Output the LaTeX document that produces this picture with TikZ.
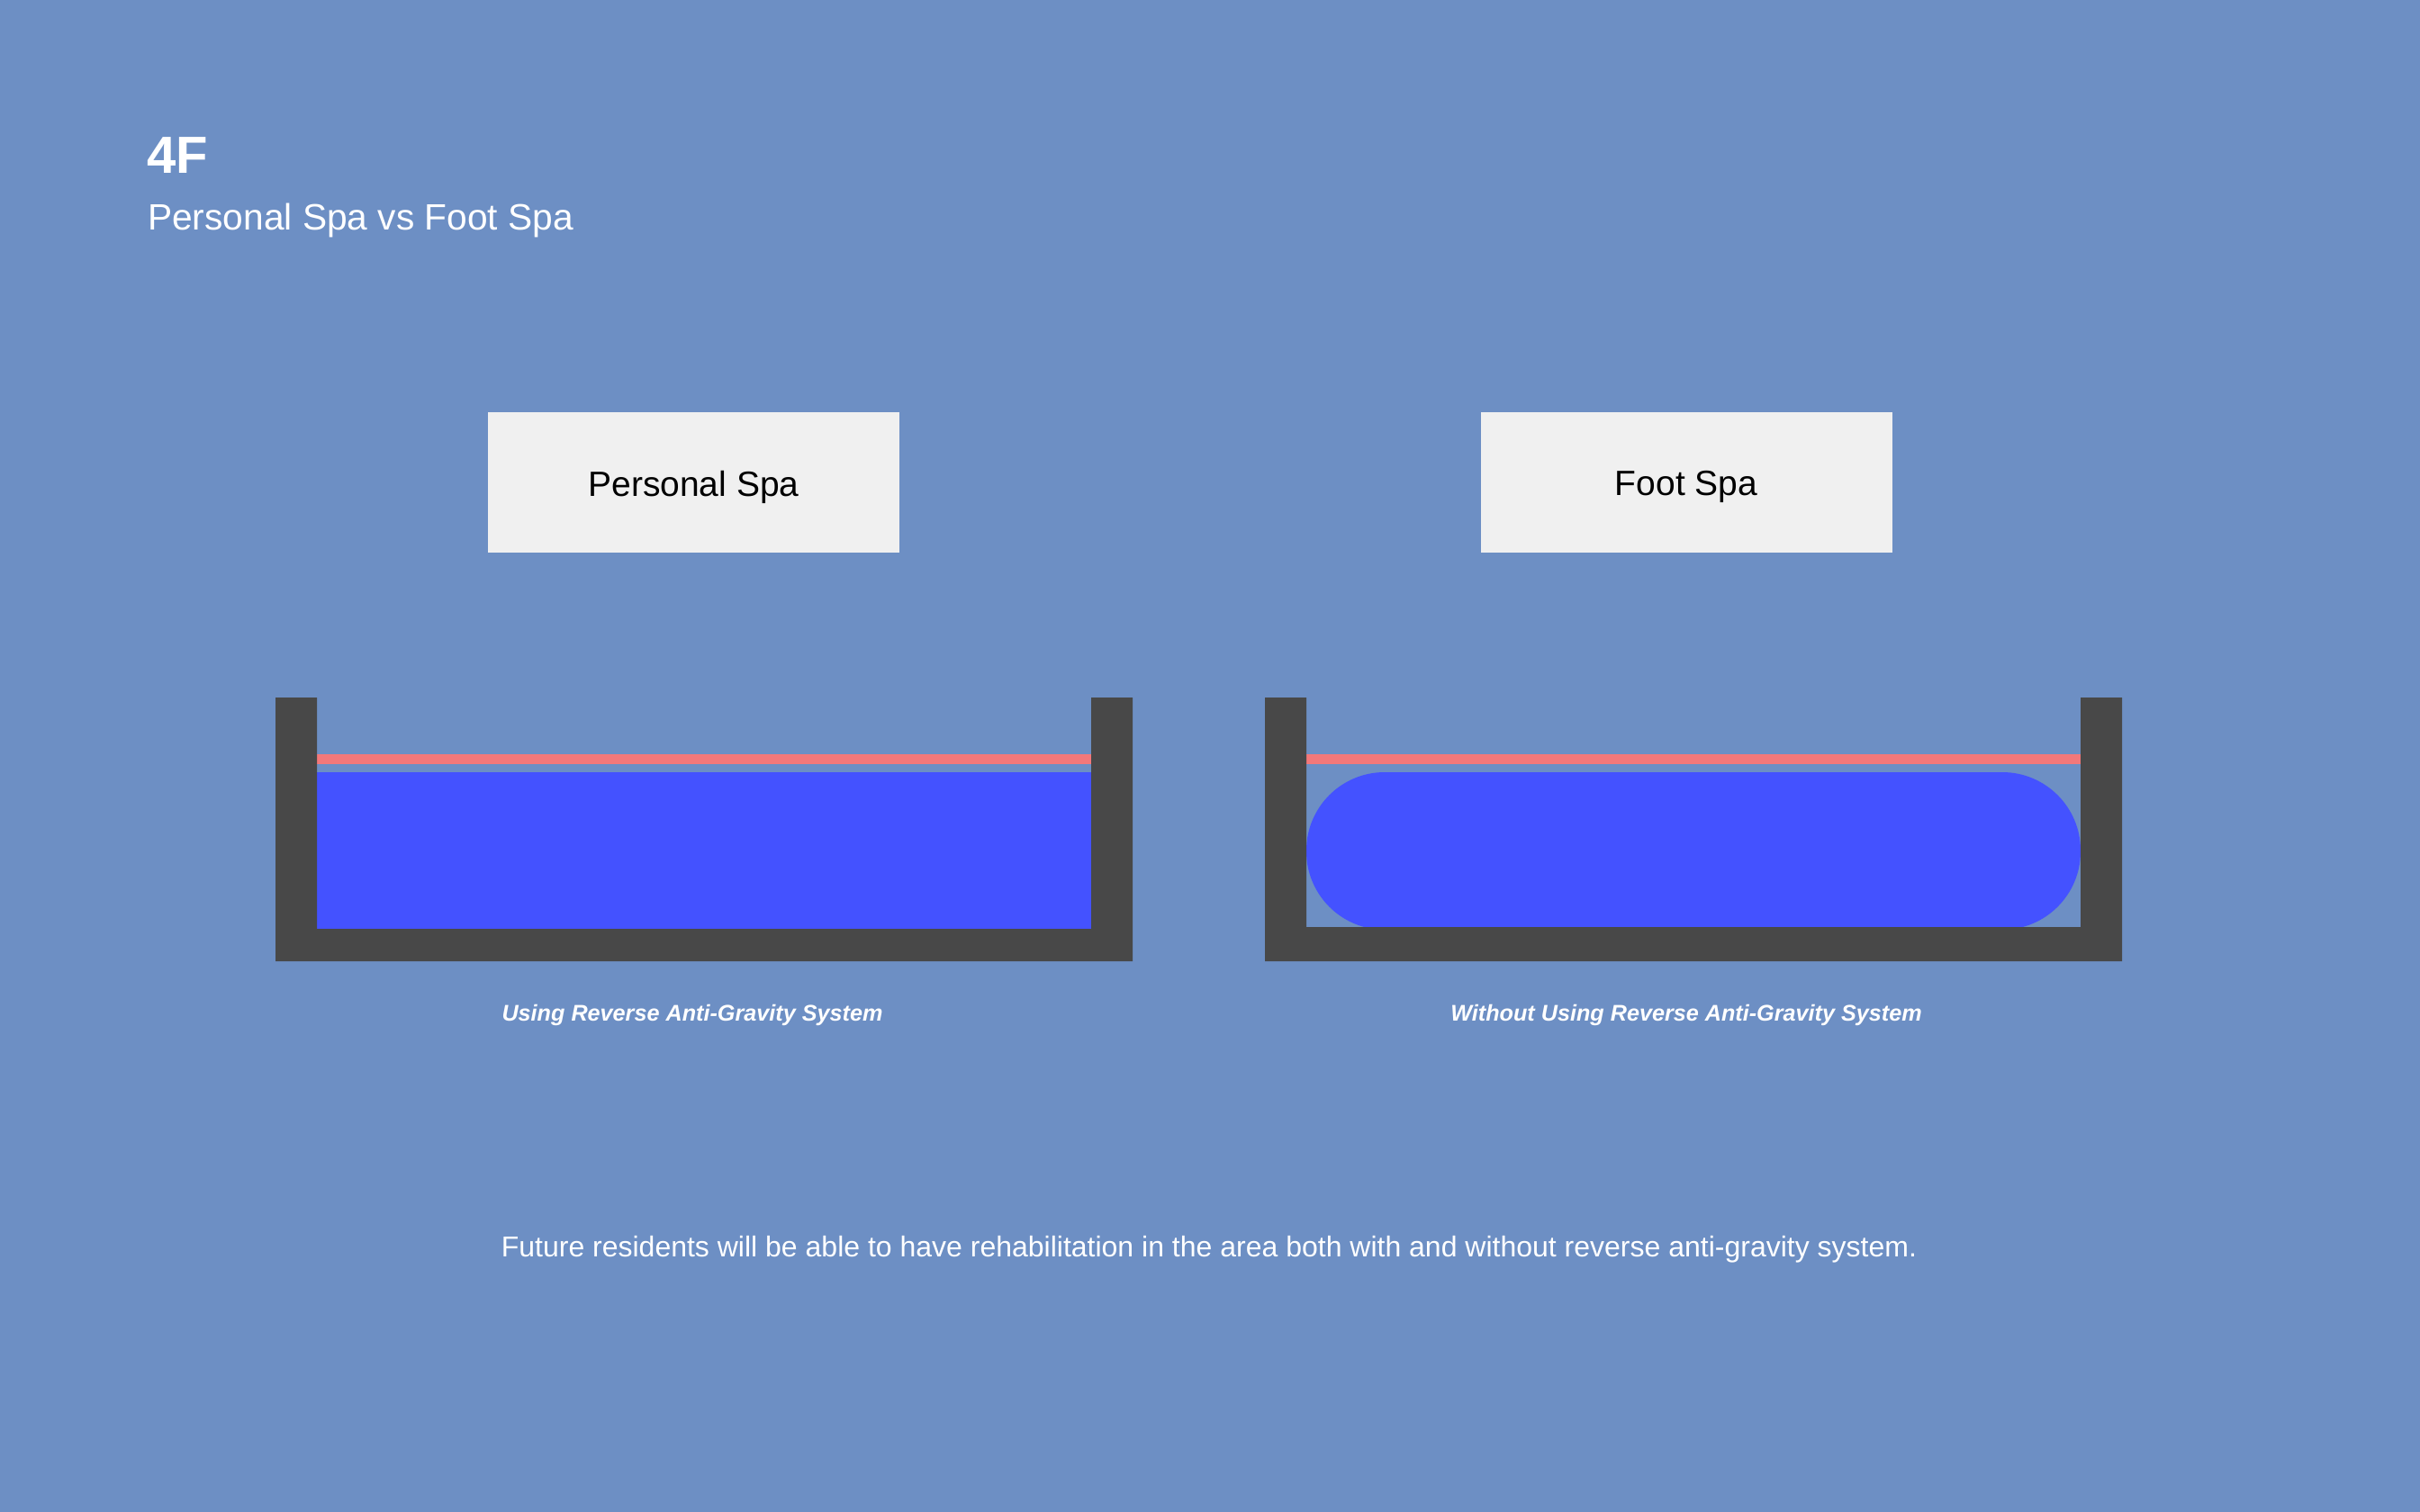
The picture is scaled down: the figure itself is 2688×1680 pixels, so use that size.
\documentclass[tikz,border=0pt]{standalone}
\usepackage{fontspec}
\setmainfont{Liberation Sans}
\definecolor{bg}{HTML}{6D8FC4}
\definecolor{wall}{HTML}{484848}
\definecolor{pinkline}{HTML}{F3787A}
\definecolor{water}{HTML}{4452FF}
\definecolor{boxfill}{HTML}{F0F0F0}
\tikzset{
  labelbox/.style={fill=boxfill, draw=none, minimum width=457pt, minimum height=156pt, inner sep=0pt, text=black},
  labeltext/.style={text=black, inner sep=0pt, font=\fontsize{39}{47}\selectfont},
  caption/.style={text=white, font=\fontsize{25.2}{30}\selectfont\bfseries\itshape, inner sep=0pt},
  wallfill/.style={fill=wall, draw=none},
}
\begin{document}
\begin{tikzpicture}[x=1pt,y=-1pt]
\fill[bg] (0,0) rectangle (2688,1680);
\useasboundingbox (0,0) rectangle (2688,1680);
% titles
\node[anchor=base west, text=white, inner sep=0pt, font=\fontsize{58}{66}\selectfont\bfseries] (t4f) at (163,193) {4F};
\node[anchor=base west, text=white, inner sep=0pt, font=\fontsize{40.7}{48}\selectfont] (tsub) at (164,256) {Personal Spa vs Foot Spa};
% label boxes
\node[labelbox] (bx1) at (770.5,536) {};
\node[labeltext] (lb1) at (770.5,541) {Personal Spa};
\node[labelbox] (bx2) at (1873,536) {};
\node[labeltext] (lb2) at (1873,541) {Foot Spa};
% tub 1
\fill[water] (352,858) rectangle (1212,1034);
\fill[pinkline] (352,838) rectangle (1212,849);
\fill[wallfill] (306,775) -- (306,1068) -- (1258,1068) -- (1258,775) -- (1212,775) -- (1212,1032) -- (352,1032) -- (352,775) -- cycle;
% tub 2
\fill[water, rounded corners=87pt] (1451,858) rectangle (2311,1033);
\fill[pinkline] (1451,838) rectangle (2311,849);
\fill[wallfill] (1405,775) -- (1405,1068) -- (2357,1068) -- (2357,775) -- (2311,775) -- (2311,1030) -- (1451,1030) -- (1451,775) -- cycle;
% captions
\node[caption] (cap1) at (769,1128) {Using Reverse Anti-Gravity System};
\node[caption] (cap2) at (1873,1128) {Without Using Reverse Anti-Gravity System};
% footer
\node[text=white, inner sep=0pt, font=\fontsize{32}{38}\selectfont] (foot) at (1343,1388) {Future residents will be able to have rehabilitation in the area both with and without reverse anti-gravity system.};
\end{tikzpicture}
\end{document}
